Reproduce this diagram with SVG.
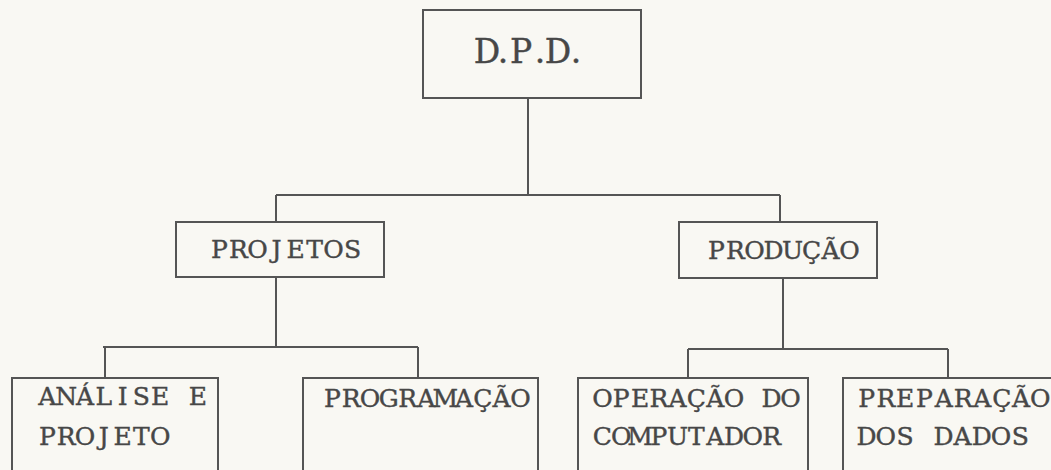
<svg xmlns="http://www.w3.org/2000/svg" width="1051" height="470" viewBox="0 0 1051 470">
<style>
.box{fill:none;stroke:#555;stroke-width:2}
.ln{fill:none;stroke:#555;stroke-width:2}
.t{font-family:"DejaVu Serif","Liberation Serif",serif;font-size:25px;fill:#474747;stroke:#474747;stroke-width:0.4;text-anchor:middle}
.big{font-size:33px}
</style>
<rect width="1051" height="470" fill="#f9f8f3"/>
<g id="connectors">
<path class="ln" d="M528,98 V195 M276,195 H780 M276,195 V222 M780,195 V222"/>
<path class="ln" d="M276,277 V347 M103,347 H418 M105,347 V378 M418,347 V378"/>
<path class="ln" d="M783,278 V349 M688,349 H948 M688,349 V378 M948,349 V378"/>
</g>
<g id="dpd">
<rect class="box" x="423" y="10" width="218" height="88"/>
<text class="t big" x="487 503 521 540 558 576" y="63">D.P.D.</text>
</g>
<g id="projetos">
<rect class="box" x="176" y="222" width="208" height="55"/>
<text class="t" x="219.5 238.5 257.5 276.5 295.5 314.5 333.5 352.5" y="258">PROJETOS</text>
</g>
<g id="producao">
<rect class="box" x="679" y="222" width="198" height="56"/>
<text class="t" x="716.5 735.5 754.5 773.5 792.5 811.5 830.5 849.5" y="259">PRODUÇÃO</text>
</g>
<g id="analise">
<rect class="box" x="12" y="378" width="206" height="110"/>
<text class="t" x="47.4 66.2 85 103.8 122.6 141.4 160.2 179 197.8" y="405">ANÁLISE E</text>
<text class="t" x="47.4 66.2 85 103.8 122.6 141.4 160.2" y="445">PROJETO</text>
</g>
<g id="programacao">
<rect class="box" x="303" y="378" width="235" height="110"/>
<text class="t" x="332.4 351.2 370 388.8 407.6 426.4 445.2 464 482.8 501.6 520.4" y="407">PROGRAMAÇÃO</text>
</g>
<g id="operacao">
<rect class="box" x="578" y="378" width="230" height="110"/>
<text class="t" x="602.4 621.2 640 658.8 677.6 696.4 715.2 734 752.8 771.6 790.4" y="407">OPERAÇÃO DO</text>
<text class="t" x="602.4 621.2 640 658.8 677.6 696.4 715.2 734 752.8 771.6" y="445">COMPUTADOR</text>
</g>
<g id="preparacao">
<rect class="box" x="843" y="378" width="230" height="110"/>
<text class="t" x="866.6 885.9 905.2 924.5 943.8 963.1 982.4 1001.7 1021 1040.3" y="407">PREPARAÇÃO</text>
<text class="t" x="866.6 885.8 905 924.2 943.4 962.6 981.8 1001 1020.2" y="445">DOS DADOS</text>
</g>
</svg>
